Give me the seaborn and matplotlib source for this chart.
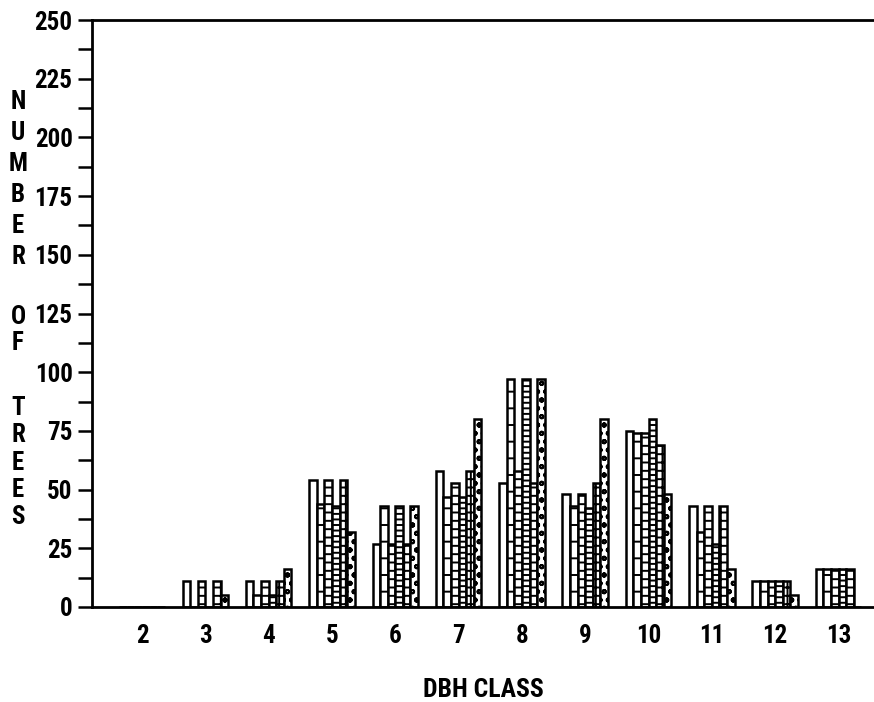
import matplotlib
matplotlib.use("Agg")
import matplotlib.pyplot as plt
import seaborn as sns
import pandas as pd
from matplotlib.ticker import MultipleLocator

# ---- data ----
dbh_classes = [2, 3, 4, 5, 6, 7, 8, 9, 10, 11, 12, 13]
series_names = ["S1", "S2", "S3", "S4", "S5", "S6"]
s1 = [0, 11, 11, 54, 27, 58, 53, 48, 75, 43, 11, 16]
s2 = [0, 0, 5, 44, 43, 47, 97, 43, 74, 32, 11, 16]
s3 = [0, 11, 11, 54, 27, 53, 58, 48, 74, 43, 11, 16]
s4 = [0, 0, 5, 43, 43, 47, 97, 42, 80, 27, 11, 16]
s5 = [0, 11, 11, 54, 27, 58, 53, 53, 69, 43, 11, 16]
s6 = [0, 5, 16, 32, 43, 80, 97, 80, 48, 16, 5, 0]
y_ticks = [0, 25, 50, 75, 100, 125, 150, 175, 200, 225, 250]

rows = []
for name, vals in zip(series_names, [s1, s2, s3, s4, s5, s6]):
    for c, v in zip(dbh_classes, vals):
        rows.append({"dbh": str(c), "count": v, "series": name})
df = pd.DataFrame(rows)

sns.set_style("white")
FONT = ["Roboto Condensed", "DejaVu Sans"]
plt.rcParams["font.family"] = FONT
plt.rcParams["font.weight"] = "bold"
plt.rcParams["hatch.linewidth"] = 1.4
plt.rcParams["text.color"] = "black"
plt.rcParams["xtick.color"] = "black"
plt.rcParams["ytick.color"] = "black"
plt.rcParams["axes.labelcolor"] = "black"

fig = plt.figure(figsize=(8.74, 7.02), dpi=100)
ax = fig.add_axes([92 / 874, 95 / 702, 782 / 874, 587 / 702])

sns.barplot(data=df, x="dbh", y="count", hue="series",
            order=[str(c) for c in dbh_classes], hue_order=series_names,
            palette=["white"] * 6, edgecolor="black", linewidth=1.8,
            width=0.72, legend=False, ax=ax, saturation=1)

hatches = ["", "-", "--", "---", "++", "oo"]
for cont, h in zip(ax.containers, hatches):
    for p in cont:
        p.set_hatch(h)

ax.set_ylim(0, 250)
ax.set_xlim(-0.79, 11.56)
ax.set_yticks(y_ticks)
ax.yaxis.set_minor_locator(MultipleLocator(12.5))
ax.tick_params(axis="y", which="both", direction="out", length=10, width=1.8,
               left=True, labelsize=18, pad=4, colors="black")
ax.tick_params(axis="x", length=0, labelsize=18, pad=12, colors="black")
for lab in ax.get_yticklabels() + ax.get_xticklabels():
    lab.set_fontweight("bold")

for s in ["left", "bottom", "top"]:
    ax.spines[s].set_visible(True)
    ax.spines[s].set_linewidth(2)
    ax.spines[s].set_color("black")
ax.spines["right"].set_visible(False)

ax.set_xlabel("DBH CLASS", fontsize=18.5, fontweight="bold", labelpad=22,
              color="black")
ax.set_ylabel("")

# stacked, upright y-axis title: (word, centre of first letter px, step px)
for word, y0, step in [("NUMBER", 102, 31), ("OF", 317, 26), ("TREES", 408, 27.3)]:
    for i, ch in enumerate(word):
        fig.text(18 / 874, 1 - (y0 + i * step) / 702, ch, fontsize=18,
                 fontweight="bold", ha="center", va="center", color="black")

fig.savefig("out.png", dpi=100)
